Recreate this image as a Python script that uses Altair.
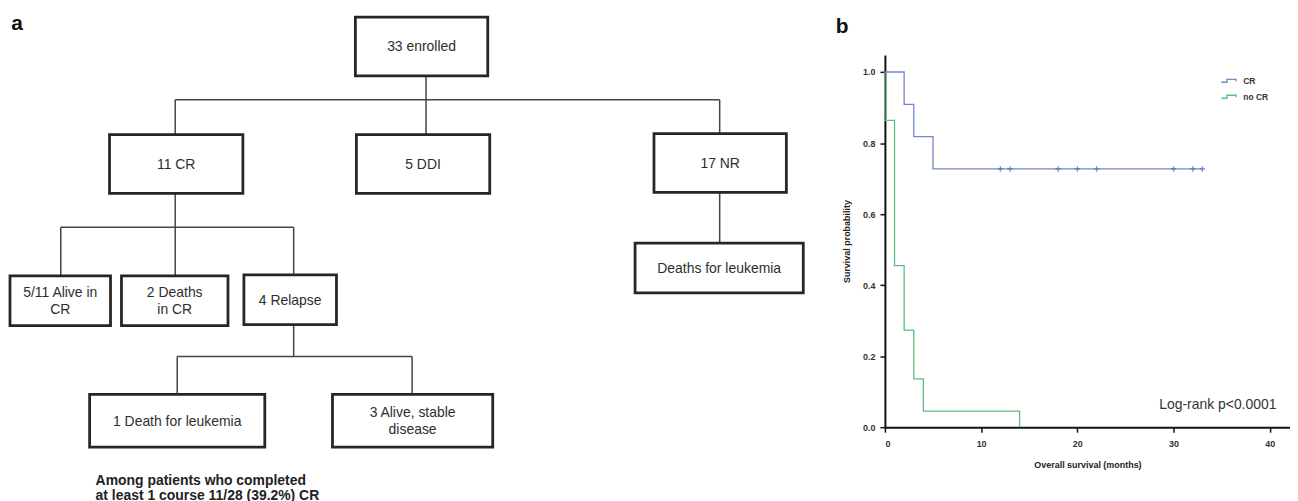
import altair as alt
import pandas as pd

# ---------------- Panel a: flowchart content ----------------
box_labels = [
    "33 enrolled", "11 CR", "5 DDI", "17 NR", "Deaths for leukemia",
    "5/11 Alive in\nCR", "2 Deaths\nin CR", "4 Relapse",
    "1 Death for leukemia", "3 Alive, stable\ndisease",
]
note_lines = ["Among patients who completed", "at least 1 course 11/28 (39.2%) CR"]
panel_labels = ["a", "b"]

# ---------------- Panel b: Kaplan-Meier content ----------------
group_names = ["CR", "no CR"]
cr_times = [0, 2, 3, 5, 33]
cr_surv = [1.0, 0.909, 0.818, 0.727, 0.727]
cr_censor_times = [12, 13, 18, 20, 22, 30, 32, 33]
cr_censor_surv = [0.727, 0.727, 0.727, 0.727, 0.727, 0.727, 0.727, 0.727]
nocr_times = [0, 0, 1, 2, 3, 4, 14]
nocr_surv = [1.0, 0.864, 0.455, 0.273, 0.136, 0.045, 0.0]
x_ticks = [0, 10, 20, 30, 40]
y_ticks = [0.0, 0.2, 0.4, 0.6, 0.8, 1.0]
logrank_text = ["Log-rank p<0.0001"]

# ---------------- layout (flowchart geometry, in layout units) ----------------
box_layout = [
    (356, 489, 13, 72), (109, 243, 131, 190), (357, 491, 131, 190),
    (656, 789, 130, 189), (637, 806, 240, 290), (9, 110, 273, 323),
    (121, 228, 273, 323), (244, 337, 272, 322), (89, 265, 392, 445),
    (333, 494, 392, 445),
]
connector_layout = [
    (427, 72, 427, 131), (175, 96, 722, 96), (175, 96, 175, 131),
    (722, 96, 722, 130), (722, 189, 722, 240), (175, 190, 175, 224),
    (60, 224, 294, 224), (60, 224, 60, 273), (175, 224, 175, 273),
    (294, 224, 294, 272), (294, 322, 294, 354), (177, 354, 413, 354),
    (177, 354, 177, 392), (413, 354, 413, 392),
]
note_layout = [(95, 479), (95, 494)]
panel_label_layout = [(16, 20), (845, 23)]
LINE_H = 17

FONT = "Liberation Sans"
BLUE = "#7586cc"
GREEN = "#5cbf7e"

boxes = pd.DataFrame({
    "label": box_labels,
    "x0": [b[0] for b in box_layout], "x1": [b[1] for b in box_layout],
    "y0": [b[2] for b in box_layout], "y1": [b[3] for b in box_layout],
})
nlines = boxes["label"].str.count("\n")
boxes["xc"] = (boxes["x0"] + boxes["x1"]) / 2
boxes["yc"] = (boxes["y0"] + boxes["y1"]) / 2 + 1 - nlines * LINE_H / 2

conns = pd.DataFrame(connector_layout, columns=["x0", "y0", "x1", "y1"])
notes = pd.DataFrame({"label": note_lines,
                      "x": [p[0] for p in note_layout], "y": [p[1] for p in note_layout]})
plabels = pd.DataFrame({"label": panel_labels,
                        "x": [p[0] for p in panel_label_layout],
                        "y": [p[1] for p in panel_label_layout]})

fx = alt.Scale(domain=[8, 888], nice=False, zero=False)
fy = alt.Scale(domain=[8, 493], nice=False, zero=False, reverse=True)

conn_layer = alt.Chart(conns).mark_rule(color="#444444", strokeWidth=1.5).encode(
    x=alt.X("x0:Q", scale=fx, axis=None), x2="x1:Q",
    y=alt.Y("y0:Q", scale=fy, axis=None), y2="y1:Q",
)
box_layer = alt.Chart(boxes).mark_rect(fill="white", stroke="#262626", strokeWidth=2.8).encode(
    x=alt.X("x0:Q", scale=fx, axis=None), x2="x1:Q",
    y=alt.Y("y0:Q", scale=fy, axis=None), y2="y1:Q",
)
box_text = alt.Chart(boxes).mark_text(
    font=FONT, fontSize=14, color="#2e2e2e", lineBreak="\n", lineHeight=LINE_H
).encode(
    x=alt.X("xc:Q", scale=fx, axis=None), y=alt.Y("yc:Q", scale=fy, axis=None), text="label:N"
)
note_text = alt.Chart(notes).mark_text(
    font=FONT, fontSize=14, fontWeight="bold", color="#222222", align="left"
).encode(
    x=alt.X("x:Q", scale=fx, axis=None), y=alt.Y("y:Q", scale=fy, axis=None), text="label:N"
)
plabel_text = alt.Chart(plabels).mark_text(
    font=FONT, fontSize=21, fontWeight="bold", color="#111111"
).encode(
    x=alt.X("x:Q", scale=fx, axis=None), y=alt.Y("y:Q", scale=fy, axis=None), text="label:N"
)

flow = alt.layer(conn_layer, box_layer, box_text, note_text, plabel_text).properties(
    width=880, height=485
)

# ---------------- Kaplan-Meier ----------------
km = pd.DataFrame({
    "group": ["CR"] * len(cr_times) + ["no CR"] * len(nocr_times),
    "t": cr_times + nocr_times,
    "s": cr_surv + nocr_surv,
    "idx": list(range(len(cr_times))) + list(range(len(nocr_times))),
})
censor = pd.DataFrame({"t": cr_censor_times, "s": cr_censor_surv})
lr = pd.DataFrame({"t": [34.6], "s": [0.062], "label": logrank_text})

axis_common = dict(
    domainColor="#111111", domainWidth=2, tickColor="#111111", tickWidth=1.5,
    tickSize=5, labelFont=FONT, labelFontSize=9, labelFontWeight="bold",
    labelColor="#333333", titleFont=FONT, titleFontSize=9, titleFontWeight="bold",
    titleColor="#222222", grid=False,
)
KX = alt.X("t:Q", scale=alt.Scale(domain=[0, 42.1], nice=False, zero=False),
           axis=alt.Axis(values=x_ticks, labelPadding=7, titlePadding=12,
                         title="Overall survival (months)", **axis_common))
KY = alt.Y("s:Q", scale=alt.Scale(domain=[0, 1.048], nice=False, zero=False),
           axis=alt.Axis(values=y_ticks, format=".1f", labelPadding=5, titlePadding=11,
                         title="Survival probability", **axis_common))

lines = alt.Chart(km).mark_line(interpolate="step-after", strokeWidth=1.3).encode(
    x=KX, y=KY,
    color=alt.Color(
        "group:N", title=None,
        scale=alt.Scale(domain=group_names, range=[BLUE, GREEN]),
        legend=alt.Legend(
            orient="none", legendX=1217, legendY=60, padding=0,
            symbolType="M-1,0.18H-0.3V-0.18H0.85V0.05", symbolSize=256,
            symbolStrokeWidth=1.4, symbolFillColor="transparent",
            labelFont=FONT, labelFontSize=8.5, labelFontWeight="bold",
            labelColor="#333333", labelOffset=5, rowPadding=2,
        ),
    ),
    order="idx:Q",
)
censor_pts = alt.Chart(censor).mark_point(
    shape="M-1,0H1M0,-1V1", filled=False, size=30, strokeWidth=1.3, color="#4f5fae"
).encode(x=KX, y=KY)
lr_text = alt.Chart(lr).mark_text(font=FONT, fontSize=14, color="#333333").encode(
    x=KX, y=KY, text="label:N"
)
km_chart = alt.layer(lines, censor_pts, lr_text).properties(width=407, height=374)

spacer = alt.Chart(pd.DataFrame({"v": [0]})).mark_point(opacity=0).encode(
    x=alt.value(0), y=alt.value(0)
).properties(width=407, height=43)

right = alt.vconcat(spacer, km_chart, spacing=0, bounds="flush")
chart = alt.hconcat(flow, right, spacing=0, bounds="flush").properties(
    padding=0
).configure(font=FONT).configure_view(strokeWidth=0)

chart.save("out.html", embed_options={"renderer": "svg", "actions": False})
